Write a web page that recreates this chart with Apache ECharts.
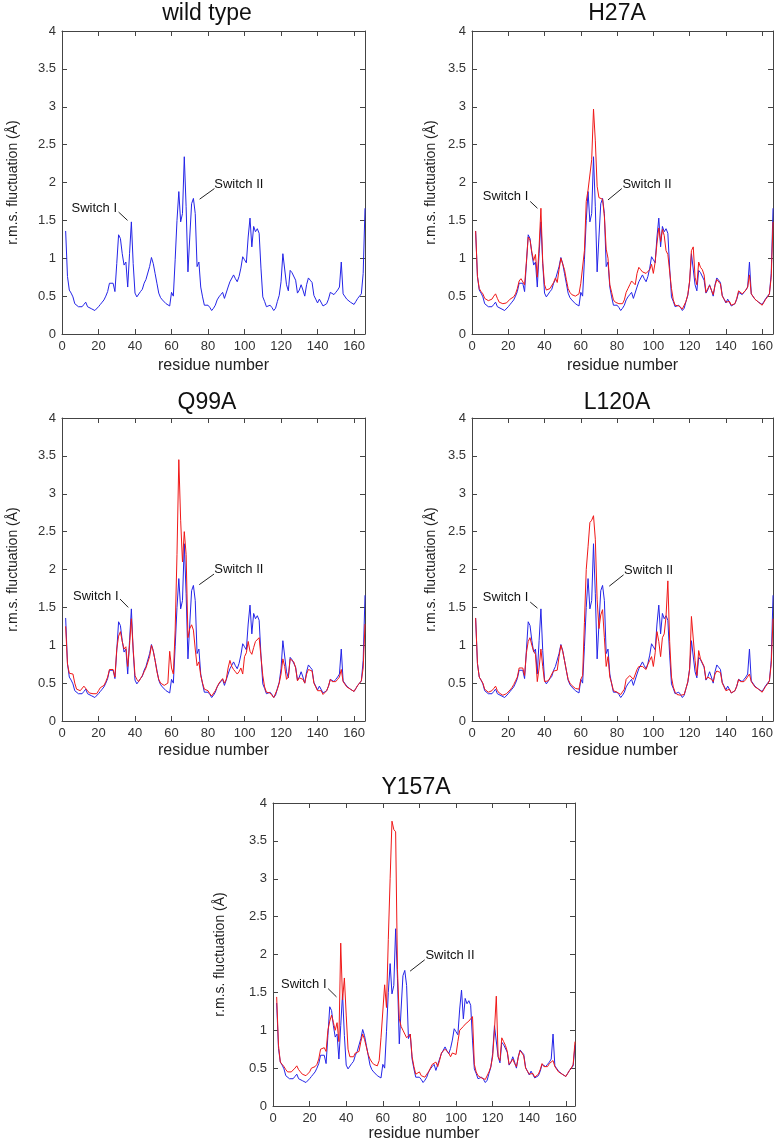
<!DOCTYPE html>
<html>
<head>
<meta charset="utf-8">
<script src="https://cdn.jsdelivr.net/npm/echarts@6/dist/echarts.min.js"></script>
<style>
  html, body { margin: 0; background: #fff; }
  #main { width: 776px; height: 1144px; }
</style>
</head>
<body>
<div id="main"></div>
<script>
'use strict'
// r.m.s. fluctuation per residue, residues 2..166
var firstResidue = 2;

var wildType = [1.36, 0.76, 0.58, 0.54, 0.49, 0.40, 0.38, 0.36, 0.34, 0.36, 0.39, 0.42, 0.36, 0.34, 0.335, 0.32, 0.31, 0.33, 0.36,
  0.39, 0.42, 0.45, 0.50, 0.56, 0.67, 0.69, 0.67, 0.56, 0.93, 1.31, 1.26, 1.06, 0.91, 0.95, 0.62, 1.06, 1.48, 0.93, 0.54,
  0.49, 0.51, 0.56, 0.59, 0.67, 0.72, 0.73, 0.89, 1.01, 0.93, 0.80, 0.67, 0.54, 0.48, 0.45, 0.43, 0.40, 0.38, 0.37, 0.55,
  0.50, 0.98, 1.50, 1.88, 1.48, 1.59, 2.34, 1.68, 0.82, 1.28, 1.72, 1.79, 1.59, 0.89, 0.95, 0.62, 0.49, 0.38, 0.38, 0.38,
  0.35, 0.31, 0.34, 0.38, 0.45, 0.49, 0.52, 0.55, 0.47, 0.45, 0.62, 0.69, 0.68, 0.78, 0.73, 0.69, 0.76, 0.87, 1.02, 0.98,
  0.94, 1.28, 1.53, 1.15, 1.42, 1.35, 1.39, 1.33, 0.87, 0.49, 0.43, 0.36, 0.35, 0.38, 0.35, 0.31, 0.34, 0.43, 0.51, 0.69,
  1.06, 1.05, 0.65, 0.57, 0.84, 0.81, 0.79, 0.71, 0.54, 0.58, 0.65, 0.58, 0.50, 0.65, 0.74, 0.71, 0.68, 0.51, 0.46, 0.41,
  0.46, 0.44, 0.37, 0.35, 0.40, 0.46, 0.55, 0.54, 0.52, 0.55, 0.58, 0.62, 0.95, 0.53, 0.51, 0.46, 0.44, 0.42, 0.41, 0.39,
  0.43, 0.47, 0.49, 0.53, 0.80, 1.66];

var h27a = [1.36, 0.76, 0.60, 0.56, 0.53, 0.47, 0.45, 0.44, 0.43, 0.46, 0.50, 0.53, 0.47, 0.42, 0.40, 0.40, 0.40, 0.41, 0.43,
  0.46, 0.48, 0.49, 0.53, 0.60, 0.70, 0.73, 0.73, 0.65, 0.95, 1.28, 1.24, 1.08, 0.97, 1.05, 0.75, 1.15, 1.66, 0.95, 0.65,
  0.58, 0.59, 0.60, 0.62, 0.68, 0.74, 0.68, 0.85, 1.00, 1.00, 0.85, 0.72, 0.60, 0.55, 0.52, 0.50, 0.50, 0.50, 0.53, 0.67,
  0.68, 1.10, 1.75, 1.90, 1.90, 2.30, 2.97, 2.55, 1.95, 1.80, 1.80, 1.78, 1.55, 1.12, 1.00, 0.65, 0.55, 0.45, 0.42, 0.42,
  0.40, 0.38, 0.40, 0.45, 0.55, 0.60, 0.65, 0.70, 0.72, 0.65, 0.80, 0.88, 0.85, 0.82, 0.80, 0.80, 0.78, 0.85, 0.92, 0.80,
  0.95, 1.20, 1.40, 1.22, 1.38, 1.30, 1.10, 1.05, 1.07, 0.60, 0.45, 0.38, 0.36, 0.37, 0.36, 0.33, 0.35, 0.43, 0.52, 0.70,
  1.10, 1.15, 0.75, 0.65, 0.95, 0.88, 0.85, 0.78, 0.55, 0.60, 0.64, 0.58, 0.52, 0.64, 0.72, 0.70, 0.66, 0.50, 0.46, 0.42,
  0.44, 0.43, 0.38, 0.36, 0.40, 0.47, 0.57, 0.55, 0.53, 0.54, 0.58, 0.62, 0.78, 0.53, 0.51, 0.46, 0.44, 0.42, 0.40, 0.38,
  0.42, 0.46, 0.49, 0.53, 0.75, 1.48];

var q99a = [1.25, 0.75, 0.63, 0.64, 0.62, 0.50, 0.42, 0.40, 0.40, 0.42, 0.46, 0.48, 0.40, 0.37, 0.36, 0.36, 0.35, 0.36, 0.40,
  0.44, 0.44, 0.47, 0.52, 0.58, 0.68, 0.70, 0.68, 0.58, 0.95, 1.12, 1.18, 1.05, 0.95, 0.98, 0.72, 1.00, 1.35, 0.95, 0.60,
  0.55, 0.52, 0.56, 0.60, 0.65, 0.70, 0.72, 0.85, 1.00, 0.92, 0.80, 0.65, 0.55, 0.50, 0.48, 0.47, 0.46, 0.50, 0.92, 0.70,
  0.62, 1.20, 2.20, 3.45, 2.65, 2.10, 2.50, 2.20, 1.10, 1.22, 1.27, 1.20, 0.95, 0.73, 0.78, 0.60, 0.50, 0.42, 0.40, 0.40,
  0.36, 0.33, 0.35, 0.40, 0.45, 0.50, 0.53, 0.56, 0.50, 0.55, 0.70, 0.80, 0.72, 0.68, 0.65, 0.62, 0.65, 0.70, 0.62, 0.85,
  0.90, 1.05, 0.92, 0.88, 0.97, 1.05, 1.05, 1.10, 1.10, 0.60, 0.45, 0.38, 0.36, 0.37, 0.35, 0.31, 0.33, 0.42, 0.50, 0.62,
  0.82, 0.72, 0.55, 0.58, 0.82, 0.80, 0.78, 0.70, 0.53, 0.57, 0.58, 0.55, 0.50, 0.62, 0.68, 0.68, 0.66, 0.50, 0.45, 0.40,
  0.42, 0.40, 0.35, 0.34, 0.40, 0.46, 0.55, 0.52, 0.50, 0.52, 0.55, 0.58, 0.68, 0.52, 0.50, 0.45, 0.44, 0.42, 0.40, 0.39,
  0.43, 0.47, 0.49, 0.53, 0.70, 1.28];

var l120a = [1.36, 0.76, 0.58, 0.54, 0.50, 0.42, 0.40, 0.38, 0.38, 0.40, 0.43, 0.46, 0.40, 0.37, 0.35, 0.34, 0.34, 0.36, 0.38,
  0.41, 0.44, 0.48, 0.53, 0.58, 0.70, 0.72, 0.70, 0.60, 0.90, 1.05, 1.10, 1.00, 0.92, 0.88, 0.52, 0.70, 0.95, 0.72, 0.52,
  0.50, 0.53, 0.57, 0.62, 0.66, 0.68, 0.67, 0.85, 1.00, 0.92, 0.80, 0.67, 0.55, 0.50, 0.47, 0.45, 0.43, 0.42, 0.42, 0.55,
  0.60, 1.30, 2.00, 2.30, 2.62, 2.65, 2.71, 2.40, 1.60, 1.22, 1.40, 1.47, 1.10, 0.72, 0.85, 0.58, 0.50, 0.40, 0.38, 0.38,
  0.38, 0.35, 0.36, 0.42, 0.55, 0.57, 0.60, 0.62, 0.55, 0.55, 0.68, 0.72, 0.70, 0.72, 0.70, 0.68, 0.75, 0.80, 0.85, 0.72,
  0.90, 1.18, 1.05, 0.85, 1.10, 1.15, 1.38, 1.85, 1.05, 0.58, 0.45, 0.38, 0.35, 0.35, 0.34, 0.32, 0.35, 0.43, 0.52, 0.68,
  1.38, 1.38, 0.80, 0.60, 0.93, 0.82, 0.80, 0.72, 0.55, 0.58, 0.60, 0.55, 0.52, 0.62, 0.66, 0.66, 0.64, 0.50, 0.45, 0.40,
  0.42, 0.42, 0.37, 0.35, 0.40, 0.46, 0.55, 0.52, 0.50, 0.52, 0.55, 0.57, 0.62, 0.52, 0.50, 0.45, 0.44, 0.42, 0.40, 0.38,
  0.42, 0.46, 0.49, 0.53, 0.75, 1.35];

var y157a = [1.44, 0.80, 0.58, 0.55, 0.52, 0.48, 0.45, 0.47, 0.45, 0.47, 0.50, 0.53, 0.48, 0.45, 0.42, 0.40, 0.40, 0.42, 0.45,
  0.50, 0.50, 0.52, 0.55, 0.62, 0.75, 0.76, 0.77, 0.72, 1.00, 1.12, 1.20, 1.10, 1.00, 1.10, 0.85, 2.15, 1.40, 1.69, 1.20,
  0.75, 0.65, 0.63, 0.65, 0.70, 0.70, 0.72, 0.85, 0.95, 0.88, 0.78, 0.68, 0.62, 0.58, 0.55, 0.55, 0.53, 0.60, 0.90, 0.88,
  1.60, 1.30, 2.20, 3.00, 3.76, 3.65, 3.62, 1.80, 1.15, 1.05, 1.00, 0.95, 0.90, 0.92, 0.95, 0.65, 0.52, 0.42, 0.42, 0.45,
  0.40, 0.38, 0.38, 0.42, 0.45, 0.50, 0.55, 0.57, 0.58, 0.52, 0.60, 0.70, 0.72, 0.75, 0.73, 0.70, 0.65, 0.70, 0.72, 0.68,
  0.85, 1.00, 0.98, 1.05, 1.08, 1.10, 1.12, 1.15, 1.18, 0.55, 0.45, 0.40, 0.38, 0.37, 0.38, 0.35, 0.36, 0.45, 0.52, 0.65,
  1.00, 1.45, 0.65, 0.60, 0.90, 0.85, 0.80, 0.72, 0.55, 0.58, 0.62, 0.56, 0.52, 0.64, 0.73, 0.70, 0.66, 0.50, 0.46, 0.42,
  0.44, 0.43, 0.38, 0.36, 0.42, 0.48, 0.56, 0.52, 0.50, 0.52, 0.56, 0.58, 0.60, 0.52, 0.50, 0.45, 0.44, 0.42, 0.40, 0.39,
  0.43, 0.47, 0.50, 0.55, 0.85, 1.30];

var panelNames = ['wild type', 'H27A', 'Q99A', 'L120A', 'Y157A'];
var mutantSeries = [null, h27a, q99a, l120a, y157a];

// layout and annotation placement per panel
var panels = [
  { grid: [62, 31, 303, 303], xMax: 166, titleX: 207, titleTop: 2, yGap: 42, xGap: 24,
    sw1: [17.7, 1.66], sw1Line: [[31.0, 1.61], [35.9, 1.50]], sw2: [96.9, 1.98], sw2Line: [[83.5, 1.92], [75.4, 1.78]] },
  { grid: [472, 31, 303, 303], xMax: 166, titleX: 617, titleTop: 2, yGap: 34, xGap: 24,
    sw1: [18.5, 1.81], sw1Line: [[32.1, 1.75], [36.1, 1.66]], sw2: [96.5, 1.98], sw2Line: [[82.6, 1.92], [75.0, 1.77]] },
  { grid: [62, 418, 303, 303], xMax: 166, titleX: 207, titleTop: 391, yGap: 42, xGap: 22,
    sw1: [18.5, 1.65], sw1Line: [[31.8, 1.61], [36.3, 1.50]], sw2: [96.9, 2.00], sw2Line: [[83.3, 1.94], [75.2, 1.80]] },
  { grid: [472, 418, 303, 303], xMax: 166, titleX: 617, titleTop: 391, yGap: 34, xGap: 22,
    sw1: [18.5, 1.63], sw1Line: [[32.1, 1.57], [36.1, 1.49]], sw2: [97.4, 1.99], sw2Line: [[83.6, 1.93], [75.7, 1.78]] },
  { grid: [273, 803, 302, 303], xMax: 165, titleX: 416, titleTop: 776, yGap: 46, xGap: 17,
    sw1: [16.8, 1.60], sw1Line: [[30.1, 1.55], [34.7, 1.44]], sw2: [96.7, 1.99], sw2Line: [[82.9, 1.93], [74.9, 1.78]] }
];

var FONT = 'Liberation Sans, Arial, sans-serif';
var AXIS_COLOR = '#444';

// [residue, value] pairs inside the panel's x range
function pairs(values, xMax) {
  return values
    .map(function (v, i) { return [firstResidue + i, v]; })
    .filter(function (d) { return d[0] <= xMax; });
}

var option = {
  animation: false,
  backgroundColor: '#fff',
  textStyle: { fontFamily: FONT },
  title: [], grid: [], xAxis: [], yAxis: [], series: []
};

panels.forEach(function (p, k) {
  option.title.push({
    text: panelNames[k], left: p.titleX, top: p.titleTop, textAlign: 'center', padding: 0,
    textStyle: { fontSize: 23, fontWeight: 'normal', color: '#111', fontFamily: FONT }
  });
  option.grid.push({ left: p.grid[0], top: p.grid[1], width: p.grid[2], height: p.grid[3] });

  var tick = { show: true, inside: true, length: 5, lineStyle: { color: AXIS_COLOR } };
  var line = { show: true, onZero: false, lineStyle: { color: AXIS_COLOR, width: 1 } };
  option.xAxis.push({
    gridIndex: k, type: 'value', min: 0, max: p.xMax, interval: 20,
    axisLine: line, axisTick: tick, splitLine: { show: false },
    axisLabel: { showMaxLabel: false, fontSize: 13, color: '#333', margin: 6 },
    name: 'residue number', nameLocation: 'middle', nameGap: p.xGap,
    nameTextStyle: { fontSize: 16, color: '#222' }
  });
  option.xAxis.push({
    gridIndex: k, type: 'value', position: 'top', min: 0, max: p.xMax, interval: 20,
    axisLine: line, axisTick: tick, splitLine: { show: false }, axisLabel: { show: false }
  });
  option.yAxis.push({
    gridIndex: k, type: 'value', min: 0, max: 4, interval: 0.5,
    axisLine: line, axisTick: tick, splitLine: { show: false },
    axisLabel: { fontSize: 13, color: '#333', margin: 6 },
    name: 'r.m.s. fluctuation (Å)', nameLocation: 'middle', nameGap: p.yGap,
    nameTextStyle: { fontSize: 14, color: '#222' }
  });
  option.yAxis.push({
    gridIndex: k, type: 'value', position: 'right', min: 0, max: 4, interval: 0.5,
    axisLine: line, axisTick: tick, splitLine: { show: false }, axisLabel: { show: false }
  });

  var lbl = { show: true, position: 'inside', color: '#111', fontSize: 13, fontFamily: FONT };
  option.series.push({
    name: 'wild type', type: 'line', xAxisIndex: 2 * k, yAxisIndex: 2 * k,
    data: pairs(wildType, p.xMax), showSymbol: false, symbol: 'none', clip: true,
    lineStyle: { color: '#2424e8', width: 1 }, itemStyle: { color: '#2424e8' },
    markLine: {
      silent: true, symbol: ['none', 'none'], label: { show: false },
      lineStyle: { color: '#222', width: 1, type: 'solid' },
      data: [
        [{ coord: p.sw1Line[0] }, { coord: p.sw1Line[1] }],
        [{ coord: p.sw2Line[0] }, { coord: p.sw2Line[1] }]
      ]
    },
    markPoint: {
      silent: true, symbol: 'circle', symbolSize: 1, itemStyle: { color: 'rgba(0,0,0,0)' },
      data: [
        { coord: p.sw1, label: Object.assign({ formatter: 'Switch I' }, lbl) },
        { coord: p.sw2, label: Object.assign({ formatter: 'Switch II' }, lbl) }
      ]
    }
  });
  if (mutantSeries[k]) {
    option.series.push({
      name: panelNames[k], type: 'line', xAxisIndex: 2 * k, yAxisIndex: 2 * k,
      data: pairs(mutantSeries[k], p.xMax), showSymbol: false, symbol: 'none', clip: true,
      lineStyle: { color: '#f01818', width: 1 }, itemStyle: { color: '#f01818' }
    });
  }
});

var chart = echarts.init(document.getElementById('main'));
chart.setOption(option);
</script>
</body>
</html>
